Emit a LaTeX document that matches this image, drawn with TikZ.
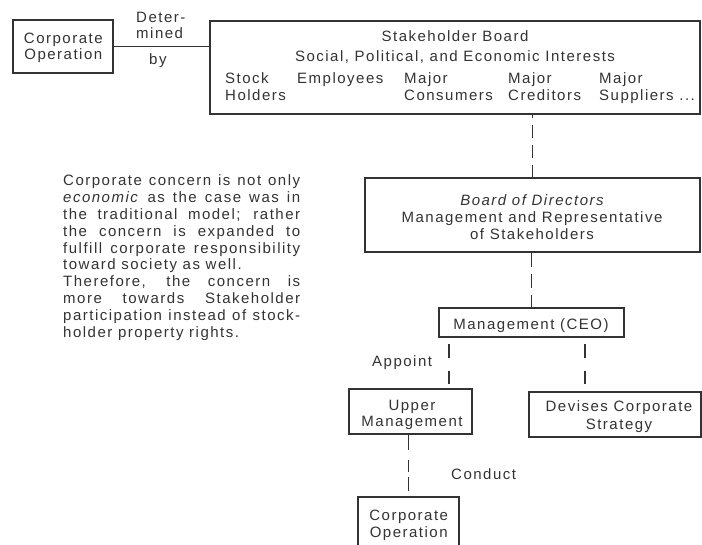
\documentclass[tikz,border=0pt]{standalone}
\usepackage{fontspec}
\setmainfont{Liberation Sans}[LetterSpace=10]
\definecolor{ink}{HTML}{333333}
\begin{document}
\begin{tikzpicture}[x=1pt,y=-1pt,
  box/.style={draw=ink, line width=1.2pt, inner sep=0pt, rectangle},
  link/.style={draw=ink, line width=1.2pt},
  txt/.style={inner sep=0pt, anchor=base, text=ink, font=\fontsize{15}{17}\selectfont},
  ltxt/.style={txt, anchor=base west}]
\useasboundingbox (0,0) rectangle (702,545);
\fill[white] (0,0) rectangle (702,545);
\clip (0,0) rectangle (702,545);

% boxes
\node[box, minimum width=100pt, minimum height=53pt] (opTop) at (63,46.5) {};
\node[box, minimum width=490pt, minimum height=93pt] (stake) at (455,67.5) {};
\node[box, minimum width=335pt, minimum height=74pt] (bod) at (532.5,215) {};
\node[box, minimum width=185pt, minimum height=29pt] (ceo) at (531.5,322.5) {};
\node[box, minimum width=123pt, minimum height=45pt] (upper) at (410.5,411.5) {};
\node[box, minimum width=172pt, minimum height=45pt] (devises) at (615,414.5) {};
\node[box, minimum width=101pt, minimum height=73pt] (opBot) at (408.5,533.5) {};

% connectors
\draw[link] (opTop.east) -- (opTop.east -| stake.west);
\draw[link, dash pattern=on 13pt off 7pt, dash phase=10pt]
  (bod.north |- stake.south) -- (bod.north);
\draw[link, dash pattern=on 14pt off 7pt] (ceo.north |- bod.south) -- (ceo.north);
\draw[link, dash pattern=on 13.5pt off 13pt, dash phase=20pt]
  (ceo.south -| 449,0) -- (upper.north -| 449,0);
\draw[link, dash pattern=on 13.5pt off 13pt, dash phase=20pt]
  (ceo.south -| 585,0) -- (devises.north -| 585,0);
\draw[link, dash pattern=on 15pt off 10pt on 12pt off 5pt on 14pt off 6pt]
  (opBot.north |- upper.south) -- (opBot.north);

% box texts
\node[txt] (opTopA) at (63.3,43.3) {Corporate};
\node[txt] (opTopB) at (63.3,60) {Operation};
\node[ltxt] (detA) at (136,22.7) {Deter-};
\node[ltxt] (detB) at (136,39) {mined};
\node[ltxt] (detC) at (149,65) {by};

\node[txt] (stakeA) at (455,42) {Stakeholder Board};
\node[txt] (stakeB) at (455,62) {Social, Political, and Economic Interests};
\node[ltxt] (colA1) at (225,84) {Stock};
\node[ltxt] (colA2) at (225,101) {Holders};
\node[ltxt] (colB1) at (297,84) {Employees};
\node[ltxt] (colC1) at (404,84) {Major};
\node[ltxt] (colC2) at (404,101) {Consumers};
\node[ltxt] (colD1) at (508,84) {Major};
\node[ltxt] (colD2) at (508,101) {Creditors};
\node[ltxt] (colE1) at (599,84) {Major};
\node[ltxt] (colE2) at (599,101) {Suppliers ...};

\node[txt] (bodA) at (532,205.5) {\itshape Board of Directors};
\node[txt] (bodB) at (532,222.7) {Management and Representative};
\node[txt] (bodC) at (532,240) {of Stakeholders};

\node[txt] (ceoA) at (531,330) {Management (CEO)};

\node[txt] (upperA) at (412,410) {Upper};
\node[txt] (upperB) at (412,427) {Management};
\node[txt] (devA) at (619,411.7) {Devises Corporate};
\node[txt] (devB) at (619,429) {Strategy};
\node[txt] (opBotA) at (408.7,520) {Corporate};
\node[txt] (opBotB) at (408.7,537.3) {Operation};

\node[ltxt] (appoint) at (372,367) {Appoint};
\node[ltxt] (conduct) at (451,479) {Conduct};

% explanatory note
\node[ltxt] (note) at (63,186) {\parbox[t]{237pt}{\fontsize{15}{16.8}\selectfont
\makebox[237pt][s]{Corporate concern is not only}\\
\makebox[237pt][s]{\textit{economic} as the case was in}\\
\makebox[237pt][s]{the traditional model; rather}\\
\makebox[237pt][s]{the concern is expanded to}\\
\makebox[237pt][s]{fulfill corporate responsibility}\\
toward society as well.\\
\makebox[237pt][s]{Therefore, the concern is}\\
\makebox[237pt][s]{more towards Stakeholder}\\
\makebox[237pt][s]{participation instead of stock-}\\
holder property rights.}};
\end{tikzpicture}
\end{document}
